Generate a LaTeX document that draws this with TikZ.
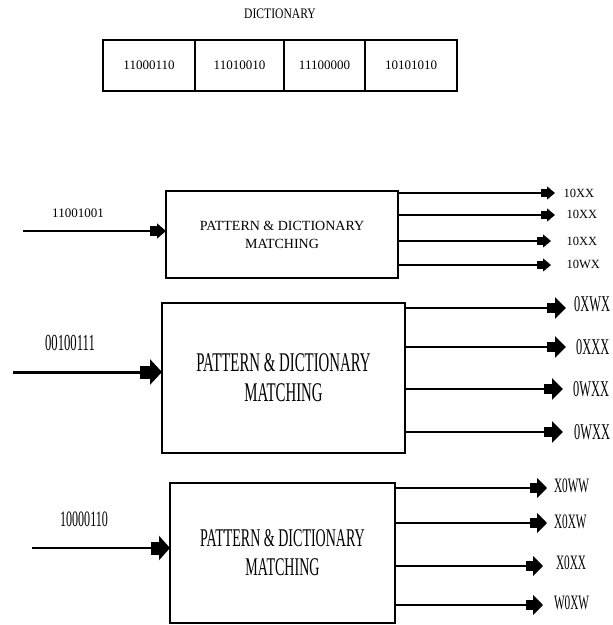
\documentclass[tikz,border=0pt]{standalone}
\usepackage{fontspec}
\setmainfont{Liberation Serif}
\newfontfamily\tallserif[FakeStretch=0.55]{Liberation Serif}
\newfontfamily\midserif[FakeStretch=0.8]{Liberation Serif}
\usetikzlibrary{arrows.meta}
\usetikzlibrary{positioning}

\tikzset{
  dictcell/.style={draw, line width=1.6pt, minimum height=51pt, inner sep=0pt, outer sep=0pt, font=\fontsize{13}{15}\selectfont},
  pmbox/.style={draw, align=center, inner sep=0pt, outer sep=0pt},
  blockhead/.style n args={4}{-{Square[length=#1pt,width=#2pt,sep=0pt]Triangle[length=#3pt,width=#4pt,sep=0pt]}},
  outlabel/.style={anchor=west, inner sep=0pt}
}

\begin{document}
\begin{tikzpicture}[x=1pt, y=-1pt]
        \path[fill=white] (0,0) rectangle (613,625);
        \useasboundingbox (0,0) rectangle (613,625);
        % dictionary row
        \node[font=\midserif\fontsize{14.5}{16}\selectfont] (dicttitle) at (280,14) {DICTIONARY};
        \node[dictcell, minimum width=92pt] (d1) at (149,65.5) {11000110};
        \node[dictcell, minimum width=89pt, right=0pt of d1] (d2) {11010010};
        \node[dictcell, minimum width=81pt, right=0pt of d2] (d3) {11100000};
        \node[dictcell, minimum width=92pt, right=0pt of d3] (d4) {10101010};
        % first matcher
        \node[pmbox, line width=1.5pt, minimum width=232pt, minimum height=87pt, font=\fontsize{14}{18}\selectfont] (pm1) at (282,234.5) {PATTERN \& DICTIONARY\\MATCHING};
        \coordinate (in1) at (23,231);
        \node[font=\fontsize{13}{15}\selectfont] (bits1) at (78,213) {11001001};
        \draw[line width=1.6pt, blockhead={7}{10}{9}{15}] (in1) -- (in1 -| pm1.west);
        \coordinate (t11) at (555,193);
        \coordinate (t12) at (555,215);
        \coordinate (t13) at (551,241);
        \coordinate (t14) at (551,265);
        \draw[line width=1.3pt, blockhead={6}{8}{8}{13}] (t11 -| pm1.east) -- (t11) node[outlabel, xshift=8pt, font=\fontsize{12.5}{14}\selectfont] (r11) {10XX};
        \draw[line width=1.3pt, blockhead={6}{8}{8}{13}] (t12 -| pm1.east) -- (t12) node[outlabel, xshift=11pt, yshift=1pt, font=\fontsize{12.5}{14}\selectfont] (r12) {10XX};
        \draw[line width=1.3pt, blockhead={6}{8}{8}{13}] (t13 -| pm1.east) -- (t13) node[outlabel, xshift=15pt, font=\fontsize{12.5}{14}\selectfont] (r13) {10XX};
        \draw[line width=1.3pt, blockhead={6}{8}{8}{13}] (t14 -| pm1.east) -- (t14) node[outlabel, xshift=15pt, yshift=1pt, font=\fontsize{12.5}{14}\selectfont] (r14) {10WX};
        % second matcher
        \node[pmbox, line width=2pt, minimum width=243pt, minimum height=150pt, font=\tallserif\fontsize{27}{30}\selectfont] (pm2) at (283.5,378) {PATTERN \& DICTIONARY\\MATCHING};
        \coordinate (in2) at (13,372);
        \node[font=\tallserif\fontsize{23}{25}\selectfont] (bits2) at (70,343) {00100111};
        \draw[line width=3pt, blockhead={10}{13}{12}{25}] (in2) -- (in2 -| pm2.west);
        \coordinate (t21) at (566,308);
        \coordinate (t22) at (566,347);
        \coordinate (t23) at (563,389);
        \coordinate (t24) at (563,432);
        \draw[line width=2.4pt, blockhead={8}{10}{11}{21}] (t21 -| pm2.east) -- (t21) node[outlabel, xshift=7pt, yshift=4pt, font=\tallserif\fontsize{22.5}{25}\selectfont] (r21) {0XWX};
        \draw[line width=2.4pt, blockhead={8}{10}{11}{21}] (t22 -| pm2.east) -- (t22) node[outlabel, xshift=9pt, font=\tallserif\fontsize{22.5}{25}\selectfont] (r22) {0XXX};
        \draw[line width=2.4pt, blockhead={8}{10}{11}{21}] (t23 -| pm2.east) -- (t23) node[outlabel, xshift=9pt, font=\tallserif\fontsize{22.5}{25}\selectfont] (r23) {0WXX};
        \draw[line width=2.4pt, blockhead={8}{10}{11}{21}] (t24 -| pm2.east) -- (t24) node[outlabel, xshift=10pt, font=\tallserif\fontsize{22.5}{25}\selectfont] (r24) {0WXX};
        % third matcher
        \node[pmbox, line width=2pt, minimum width=225pt, minimum height=140pt, font=\tallserif\fontsize{25.5}{29}\selectfont] (pm3) at (282.5,553) {PATTERN \& DICTIONARY\\MATCHING};
        \coordinate (in3) at (32,548);
        \node[font=\tallserif\fontsize{22}{24}\selectfont] (bits3) at (84,519) {10000110};
        \draw[line width=2.6pt, blockhead={8}{13}{11}{24}] (in3) -- (in3 -| pm3.west);
        \coordinate (t31) at (547,488);
        \coordinate (t32) at (547,523);
        \coordinate (t33) at (543,566);
        \coordinate (t34) at (543,605);
        \draw[line width=2pt, blockhead={7}{10}{10}{20}] (t31 -| pm3.east) -- (t31) node[outlabel, xshift=6pt, yshift=2pt, font=\tallserif\fontsize{20.5}{22}\selectfont] (r31) {X0WW};
        \draw[line width=2pt, blockhead={7}{10}{10}{20}] (t32 -| pm3.east) -- (t32) node[outlabel, xshift=6pt, yshift=1pt, font=\tallserif\fontsize{20.5}{22}\selectfont] (r32) {X0XW};
        \draw[line width=2pt, blockhead={7}{10}{10}{20}] (t33 -| pm3.east) -- (t33) node[outlabel, xshift=12pt, yshift=3pt, font=\tallserif\fontsize{20.5}{22}\selectfont] (r33) {X0XX};
        \draw[line width=2pt, blockhead={7}{10}{10}{20}] (t34 -| pm3.east) -- (t34) node[outlabel, xshift=10pt, yshift=2pt, font=\tallserif\fontsize{20.5}{22}\selectfont] (r34) {W0XW};
\end{tikzpicture}
\end{document}
